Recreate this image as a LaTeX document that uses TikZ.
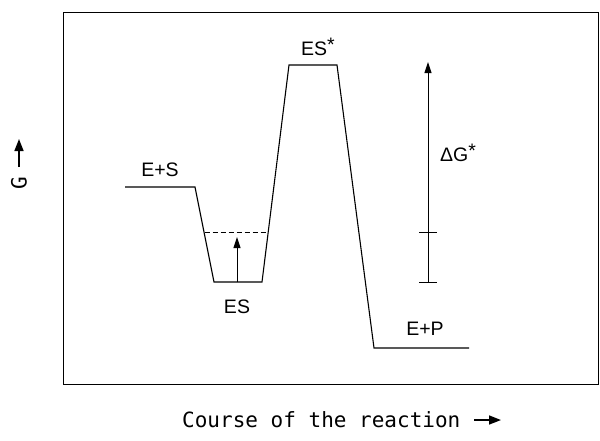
\documentclass[tikz,border=0pt]{standalone}
\usepackage{fontspec}
\setmainfont{Liberation Sans}
\newfontfamily\monof{DejaVu Sans Mono}
\usetikzlibrary{arrows.meta}
\begin{document}
\begin{tikzpicture}[x=1pt,y=-1pt,
  lvl/.style={line width=1.1pt},
  lab/.style={font=\fontsize{19.5}{22}\selectfont, inner sep=0pt},
  tip/.style={-{Triangle[length=11pt,width=7pt]}, line width=1pt},
  bigtip/.style={-{Triangle[length=12pt,width=9pt]}, line width=1.6pt}]
\useasboundingbox (0,0) rectangle (600,440);
\node[draw, line width=1pt, minimum width=535pt, minimum height=372pt, inner sep=0pt, anchor=north west] (frame) at (63,12) {};
% energy profile
\coordinate (es1) at (125,187);
\coordinate (es2) at (195,187);
\coordinate (c1) at (214,282);
\coordinate (c2) at (262,282);
\coordinate (t1) at (289,65);
\coordinate (t2) at (337,65);
\coordinate (p1) at (374,348);
\coordinate (p2) at (469,348);
\draw[lvl] (es1) -- (es2) -- (c1) -- (c2) -- (t1) -- (t2) -- (p1) -- (p2);
\coordinate (d1) at (204.5,232);
\coordinate (d2) at (268.2,232);
\draw[line width=1pt, dash pattern=on 5pt off 3pt] (d1) -- (d2);
\coordinate (a0) at (237,282);
\coordinate (a1) at (237,237);
\draw[tip] (a0) -- (a1);
% Delta G bar
\coordinate (g0) at (428,282);
\coordinate (g1) at (428,62);
\draw[tip] (g0) -- (g1);
\coordinate (k1) at (419,232); \coordinate (k2) at (437,232);
\coordinate (k3) at (419,282); \coordinate (k4) at (437,282);
\draw[line width=1pt] (k1) -- (k2) (k3) -- (k4);
% labels
\node[lab] (les) at (160,170) {E+S};
\node[lab] (lts) at (318,47) {ES\raisebox{4pt}{*}};
\node[lab] (lc) at (237,307) {ES};
\node[lab] (lp) at (425,329) {E+P};
\node[lab, anchor=west] (ldg) at (440,153) {ΔG\raisebox{4pt}{*}};
\node[font=\monof\fontsize{21}{22}\selectfont, inner sep=0pt, rotate=90] (gax) at (19,183) {G};
\coordinate (ga0) at (19,167);
\coordinate (ga1) at (19,139);
\draw[bigtip] (ga0) -- (ga1);
\node[font=\monof\fontsize{21}{22}\selectfont, inner sep=0pt, anchor=west] (xax) at (182,420) {Course of the reaction};
\coordinate (xa0) at (474,420);
\coordinate (xa1) at (501,420);
\draw[bigtip] (xa0) -- (xa1);
\end{tikzpicture}
\end{document}
